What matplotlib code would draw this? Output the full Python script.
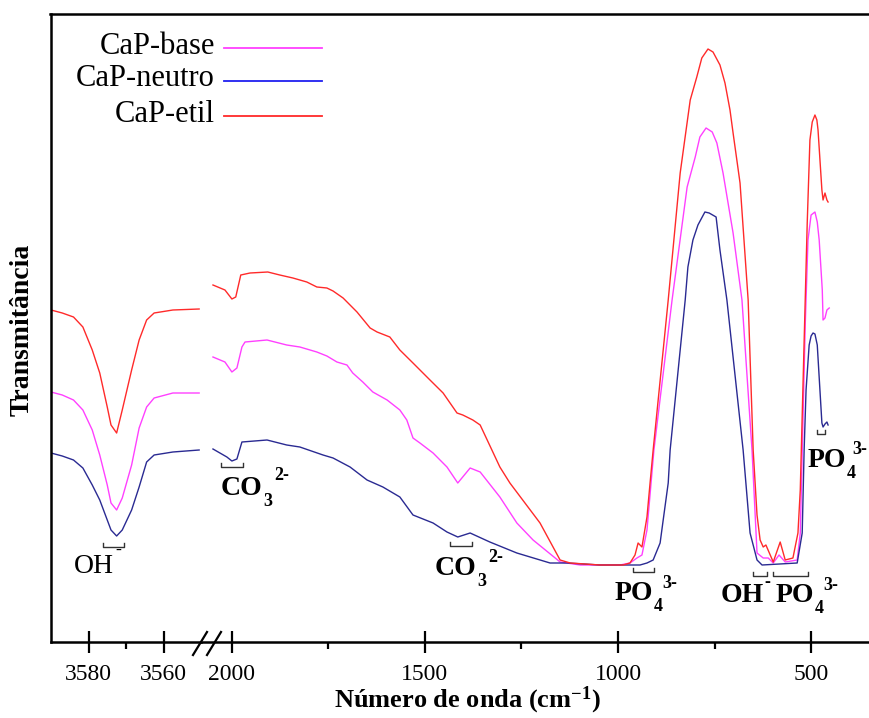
import matplotlib
matplotlib.use("Agg")
import matplotlib.pyplot as plt
from matplotlib.lines import Line2D

plt.rcParams['font.family'] = ['Liberation Serif', 'DejaVu Serif']
plt.rcParams['mathtext.fontset'] = 'custom'
plt.rcParams['mathtext.rm'] = 'Liberation Serif'
plt.rcParams['mathtext.bf'] = 'Liberation Serif:bold'
plt.rcParams['mathtext.it'] = 'Liberation Serif:italic'

# ---- data (transmittance, arbitrary units) ----
labels = ['CaP-base', 'CaP-neutro', 'CaP-etil']
colors = ['#ff40ff', '#2a2a92', '#ff2a2a']
legend_colors = ['#ff40ff', '#2020f0', '#ff2a2a']

# OH stretching region (left panel), common grid
wn_left = [3590, 3587, 3584, 3581.5, 3579, 3577, 3575, 3574, 3572.5, 3571,
           3568.5, 3566.5, 3564.5, 3562.5, 3557.5, 3550.5]
base_left = [250, 247, 242, 232, 212, 187, 157, 139, 132, 144, 177, 214, 235, 244, 249, 249]
neutro_left = [189, 186, 182, 174, 157, 142, 122, 112, 106, 112, 132, 155, 180, 187, 190, 192]
etil_left = [332, 329, 325, 315, 292, 269, 235, 217, 209, 232, 272, 302, 322, 329, 332, 333]

# 2050 - 450 cm-1 region (right panel)
wn_base = [2049, 2018, 2000, 1987, 1974, 1966, 1909, 1858, 1824, 1780, 1754, 1728, 1702,
           1687, 1661, 1635, 1598, 1565, 1547, 1531, 1513, 1479, 1443, 1415, 1383, 1357,
           1306, 1262, 1220, 1150, 1098, 995, 969, 951, 938, 925, 907, 860, 821, 800,
           788, 772, 756, 744, 728, 702, 679, 653, 640, 624, 611, 598, 583, 567, 536,
           528, 515, 508, 500, 490, 484, 479, 471, 469, 464, 459, 453]
base_right = [285, 280, 270, 274, 295, 300, 302, 297, 295, 290, 286, 280, 277,
              269, 260, 250, 242, 232, 222, 204, 199, 189, 175, 159, 174, 170,
              145, 119, 102, 80, 77, 77, 79, 84, 87, 112, 192, 342, 455, 485,
              505, 514, 510, 499, 469, 409, 342, 192, 89, 84, 84, 79, 87, 80, 82,
              109, 319, 402, 427, 430, 420, 402, 352, 322, 324, 332, 334]

wn_neutro = [2049, 2013, 2000, 1987, 1974, 1909, 1858, 1824, 1764, 1738, 1694, 1650, 1609,
             1565, 1531, 1479, 1443, 1415, 1383, 1332, 1262, 1176, 1132, 1047, 943, 925,
             909, 891, 883, 870, 865, 826, 819, 806, 793, 775, 764, 746, 736, 718, 676,
             658, 640, 627, 536, 523, 518, 513, 505, 500, 495, 490, 484, 472, 469, 464,
             459, 456]
neutro_right = [193, 185, 181, 183, 200, 202, 197, 195, 187, 184, 175, 162, 155,
                145, 127, 119, 110, 105, 109, 100, 89, 79, 79, 77, 77, 79,
                82, 99, 122, 159, 192, 342, 375, 402, 417, 430, 429, 425, 392, 342, 192,
                109, 82, 77, 79, 109, 192, 252, 297, 306, 309, 308, 297, 219, 215, 218,
                220, 217]

wn_etil = [2049, 2018, 2000, 1990, 1977, 1953, 1907, 1876, 1842, 1806, 1780, 1754, 1738,
           1712, 1676, 1642, 1624, 1591, 1565, 1531, 1487, 1453, 1417, 1402, 1376, 1357,
           1306, 1280, 1202, 1150, 1124, 1047, 995, 987, 969, 956, 948, 938, 925, 917,
           909, 870, 839, 813, 796, 783, 767, 754, 736, 723, 710, 702, 684, 663, 650,
           640, 632, 624, 617, 598, 580, 567, 547, 534, 528, 510, 503, 497, 490, 485,
           482, 472, 469, 464, 459, 456]
etil_right = [357, 352, 343, 345, 367, 369, 370, 367, 364, 360, 355, 354, 351,
              344, 330, 314, 310, 305, 292, 279, 262, 249, 229, 227, 222, 217,
              175, 159, 119, 82, 79, 77, 77, 77, 79, 87, 99, 95, 125, 159,
              192, 342, 469, 542, 565, 584, 593, 590, 577, 559, 532, 509, 459, 342, 192,
              127, 102, 95, 97, 80, 100, 82, 84, 109, 152, 419, 502, 520, 527, 522,
              512, 452, 442, 449, 442, 440]

left_series = [base_left, neutro_left, etil_left]
right_wn = [wn_base, wn_neutro, wn_etil]
right_series = [base_right, neutro_right, etil_right]

W, H = 869, 718
fig = plt.figure(figsize=(W / 100, H / 100), dpi=100)
ax1 = fig.add_axes([51 / W, 76 / H, 150 / W, 628 / H])
ax2 = fig.add_axes([201 / W, 76 / H, 668 / W, 628 / H])

for ax in (ax1, ax2):
    ax.set_ylim(0, 628)
    ax.set_yticks([])
    for s in ax.spines.values():
        s.set_linewidth(1.8)
    ax.spines['top'].set_visible(False)
    ax.tick_params(axis='x', which='major', direction='inout', length=16, width=1.6,
                   labelsize=17, pad=8)
    ax.tick_params(axis='x', which='minor', direction='out', length=5, width=1.6)
ax1.spines['right'].set_visible(False)
ax2.spines['left'].set_visible(False)
ax2.spines['right'].set_visible(False)

# one continuous top frame line across both panels
fig.add_artist(Line2D([50 / W, 1.0], [1 - 14 / H, 1 - 14 / H],
                      transform=fig.transFigure, color='k', lw=1.8))

for vals, col in zip(left_series, colors):
    ax1.plot(wn_left, vals, color=col, lw=1.0)
for wn, vals, col in zip(right_wn, right_series, colors):
    ax2.plot(wn, vals, color=col, lw=1.0)

ax1.set_xlim(3590, 3550)
ax1.set_xticks([3580, 3560])
ax1.set_xticks([3570], minor=True)
ax2.set_xlim(2080, 350)
ax2.set_xticks([2000, 1500, 1000, 500])
ax2.set_xticks([1750, 1250, 750], minor=True)

# axis break marks
for dx in (0, 14):
    fig.add_artist(Line2D([(193 + dx) / W, (207 + dx) / W], [1 - 655 / H, 1 - 632 / H],
                          transform=fig.transFigure, color='k', lw=1.6))


# band brackets
def bracket(ax, w1, w2, t, h=4):
    ax.plot([w1, w1, w2, w2], [t + h, t, t, t + h], color='#333333', lw=1.0)


bracket(ax1, 3576.1, 3570.5, 95)
bracket(ax2, 2028, 1972, 175)
bracket(ax2, 1435, 1378, 96)
bracket(ax2, 961, 907, 70)
bracket(ax2, 650, 614, 66)
bracket(ax2, 598, 508, 66)
bracket(ax2, 484, 464, 208)


# ion labels: main text, subscript and superscript placed by offsets (points)
def ion(ax, w, t, main, width, sub=None, sup=None, bold=True, sup_dx=8, sup_dy=9):
    wt = 'bold' if bold else 'normal'
    ax.text(w, t, main, fontsize=20, fontweight=wt, va='baseline', ha='left')
    if sub:
        ax.annotate(sub, (w, t), xytext=(width + 0.5, -8), textcoords='offset points',
                    fontsize=13, fontweight=wt, va='baseline', ha='left')
    if sup:
        ax.annotate(sup, (w, t), xytext=(width + sup_dx, sup_dy), textcoords='offset points',
                    fontsize=13, fontweight=wt, va='baseline', ha='left')


ion(ax1, 3583.8, 69, 'OH', 28.9, sup='-', bold=False, sup_dx=0.5, sup_dy=13)
ion(ax2, 2028, 147, 'CO', 30, sub='3', sup='2-', sup_dy=11)
ion(ax2, 1474, 67, 'CO', 30, sub='3', sup='2-')
ion(ax2, 1010, 42, 'PO', 27.8, sub='4', sup='3-', sup_dx=7)
ion(ax2, 733, 40, 'OH', 31, sup='-', sup_dx=0.5, sup_dy=11)
ion(ax2, 593, 40, 'PO', 27.8, sub='4', sup='3-', sup_dx=7)
ion(ax2, 510, 175, 'PO', 27.8, sub='4', sup='3-', sup_dx=5)

# legend (text right-aligned, line after it)
leg_y = [48, 81, 116]
for lab, col, y in zip(labels, legend_colors, leg_y):
    fig.text(215 / W, 1 - (y - 2) / H, lab, fontsize=22, ha='right', va='center')
    fig.add_artist(Line2D([224 / W, 322 / W], [1 - y / H, 1 - y / H],
                          transform=fig.transFigure, color=col, lw=1.3))

fig.text(467 / W, 1 - 700 / H, r'Número de onda (cm$^{\mathbf{-1}}$)', fontsize=19,
         fontweight='bold', ha='center', va='center')
fig.text(22 / W, 1 - 330 / H, 'Transmitância', fontsize=20, fontweight='bold',
         rotation=90, ha='center', va='center')

fig.savefig('out.png', dpi=100, facecolor='white')
